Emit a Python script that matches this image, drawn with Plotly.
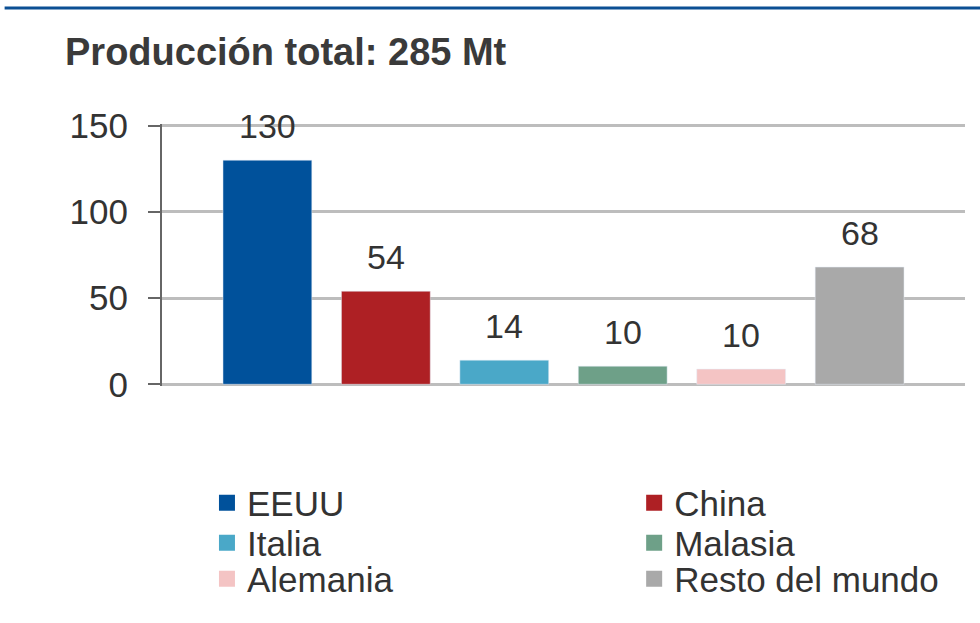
import plotly.graph_objects as go

# Datos
paises = ["EEUU", "China", "Italia", "Malasia", "Alemania", "Resto del mundo"]
produccion = [130, 54, 14, 10.5, 8.8, 68]          # altura de las barras (Mt)
etiquetas = ["130", "54", "14", "10", "10", "68"]  # valores rotulados
colores = ["#00519b", "#ae2024", "#4aa8c8", "#6ea088", "#f4c4c4", "#a9a9a9"]
ticks_y = [0, 50, 100, 150]

fuente = "Liberation Sans, Arial, sans-serif"
gris = "#333333"

# área de trazado: arriba 124 px, alto 262 px
T, H = 124, 262

# una leyenda por entrada: dos columnas, tres filas
nombres_leyenda = ["legend", "legend2", "legend3", "legend4", "legend5", "legend6"]
col_x = [0.056, 0.588]
fila_y = [(T + H - 503) / H, (T + H - 543) / H, (T + H - 579) / H]

fig = go.Figure()
for i, (p, v, c) in enumerate(zip(paises, produccion, colores)):
    fig.add_trace(go.Bar(x=[i], y=[v], name=p, marker_color=c, width=0.75,
                         showlegend=False))

# entradas de leyenda con cuadrados más grandes
for p, c, lg in zip(paises, colores, nombres_leyenda):
    fig.add_trace(go.Scatter(x=[None], y=[None], mode="markers", name=p,
                             marker=dict(symbol="square", size=20, color=c),
                             legend=lg, showlegend=True))

# Rótulos encima de cada barra
for i, (v, t) in enumerate(zip(produccion, etiquetas)):
    fig.add_annotation(x=i, y=v, text=t, showarrow=False, yshift=34,
                       yanchor="middle", font=dict(size=34, color=gris))

# Línea azul superior
fig.add_shape(type="line", xref="paper", yref="paper",
              x0=-0.196, x1=1.02, y0=(T + H - 8) / H, y1=(T + H - 8) / H,
              line=dict(color="#0b4f94", width=3))

leyendas = {}
for k, lg in enumerate(nombres_leyenda):
    leyendas[lg] = dict(orientation="h", xanchor="left", yanchor="middle",
                        x=col_x[k % 2], y=fila_y[k // 2],
                        font=dict(size=35, color=gris, family=fuente),
                        bgcolor="rgba(0,0,0,0)", itemclick=False)

fig.update_layout(
    width=980, height=623,
    margin=dict(l=162, r=15, t=T, b=623 - T - H),
    paper_bgcolor="white", plot_bgcolor="white",
    font=dict(family=fuente, color=gris),
    barmode="overlay",
    showlegend=True,
    title=dict(text="<b>Producción total: 285 Mt</b>", xref="container",
               x=65 / 980, xanchor="left", yref="container",
               y=1 - 52 / 623, yanchor="middle",
               font=dict(size=38, color="#3a3a3a")),
    xaxis=dict(range=[-0.89, 5.89], showticklabels=False, showgrid=False,
               zeroline=False, showline=False, ticks=""),
    yaxis=dict(range=[-1, 151], tickvals=ticks_y, showgrid=True,
               gridcolor="#bdbdbd", gridwidth=2.5, zeroline=False,
               showline=True, linecolor="#666666", linewidth=2,
               ticks="outside", ticklen=12, tickwidth=2, tickcolor="#666666",
               ticklabelstandoff=13, tickfont=dict(size=35, color=gris)),
    **leyendas,
)

# sin margen del <body>, para que la figura empiece en (0, 0)
fig.write_html("out.html", config={"displayModeBar": False},
               post_script="document.body.style.margin='0';")
